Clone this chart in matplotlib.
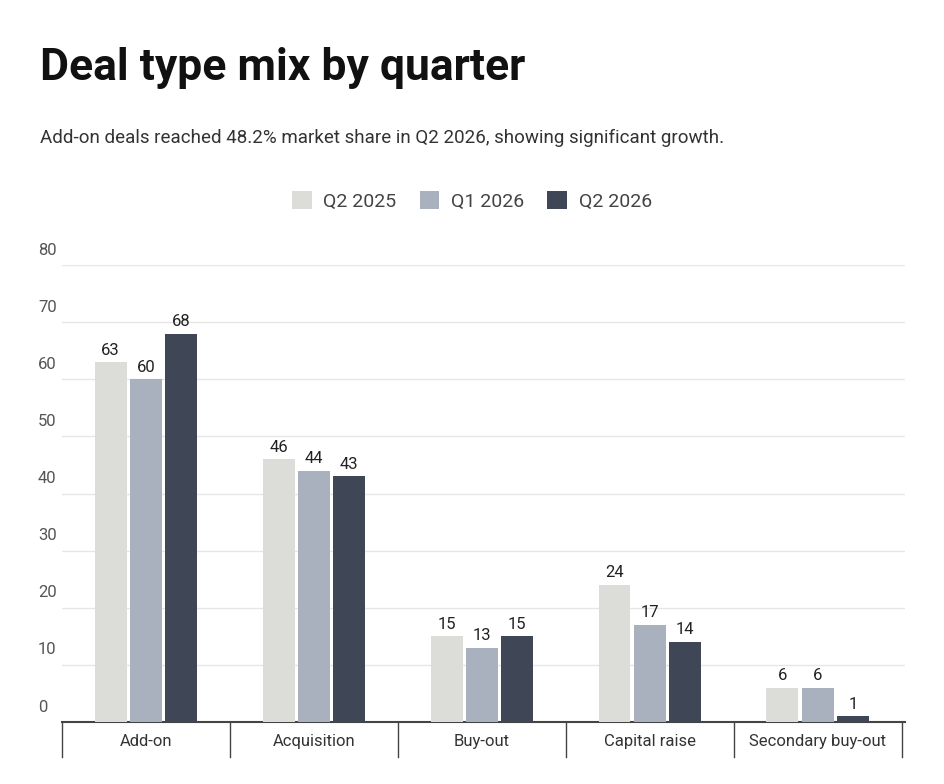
import matplotlib.pyplot as plt
import numpy as np
from matplotlib.transforms import blended_transform_factory

plt.rcParams['font.family'] = ['Roboto', 'DejaVu Sans']

categories = ['Add-on', 'Acquisition', 'Buy-out', 'Capital raise', 'Secondary buy-out']
series_names = ['Q2 2025', 'Q1 2026', 'Q2 2026']
q2_2025 = [63, 46, 15, 24, 6]
q1_2026 = [60, 44, 13, 17, 6]
q2_2026 = [68, 43, 15, 14, 1]
yticks = [0, 10, 20, 30, 40, 50, 60, 70, 80]
colors = ['#dcdcd9', '#a9b1bf', '#3f4656']

fig = plt.figure(figsize=(9.44, 7.84), dpi=100)
ax = fig.add_axes([62/944, 62/784, 843/944, 457/784])

x = np.arange(len(categories))
width = 0.19
step = 0.21
for i, (vals, c, name) in enumerate(zip([q2_2025, q1_2026, q2_2026], colors, series_names)):
    pos = x + (i - 1) * step
    ax.bar(pos, vals, width, color=c, label=name, zorder=3)
    for p, v in zip(pos, vals):
        ax.text(p, v + 0.8, str(v), ha='center', va='bottom', fontsize=12, color='#222222')

ax.set_xlim(-0.5, len(categories) - 0.5 + 0.02)
ax.set_ylim(0, 80)
for s in ['top', 'right', 'left']:
    ax.spines[s].set_visible(False)
ax.spines['bottom'].set_color('#444444')
ax.spines['bottom'].set_linewidth(1.5)
ax.set_yticks([])
ax.set_xticks([])
for t in yticks[1:]:
    ax.axhline(t, color='#e6e6e6', linewidth=1, zorder=0)
tr = blended_transform_factory(fig.transFigure, ax.transData)
for t in yticks:
    ax.text(38/944, t + 1.3, str(t), transform=tr, fontsize=12, color='#555555',
            ha='left', va='bottom')
for k in range(len(categories) + 1):
    ax.plot([k - 0.5, k - 0.5], [0, -6.2], color='#444444', linewidth=1, clip_on=False)
for k, c in enumerate(categories):
    ax.text(k, -3.4, c, ha='center', va='center', fontsize=12, color='#333333')

fig.text(40/944, 1 - 68/784, 'Deal type mix by quarter', fontsize=32, fontweight='bold',
         ha='left', va='center', color='#111111')
fig.text(40/944, 1 - 138/784,
         'Add-on deals reached 48.2% market share in Q2 2026, showing significant growth.',
         fontsize=13.5, ha='left', va='center', color='#333333')
fig.legend(loc='center', bbox_to_anchor=(472/944, 1 - 201/784), ncol=3, frameon=False,
           fontsize=14, handlelength=1.0, handleheight=1.0, columnspacing=1.2,
           handletextpad=0.6, labelcolor='#444444')
for h in fig.legends[0].legend_handles:
    pass

fig.savefig('out.png', dpi=100)
